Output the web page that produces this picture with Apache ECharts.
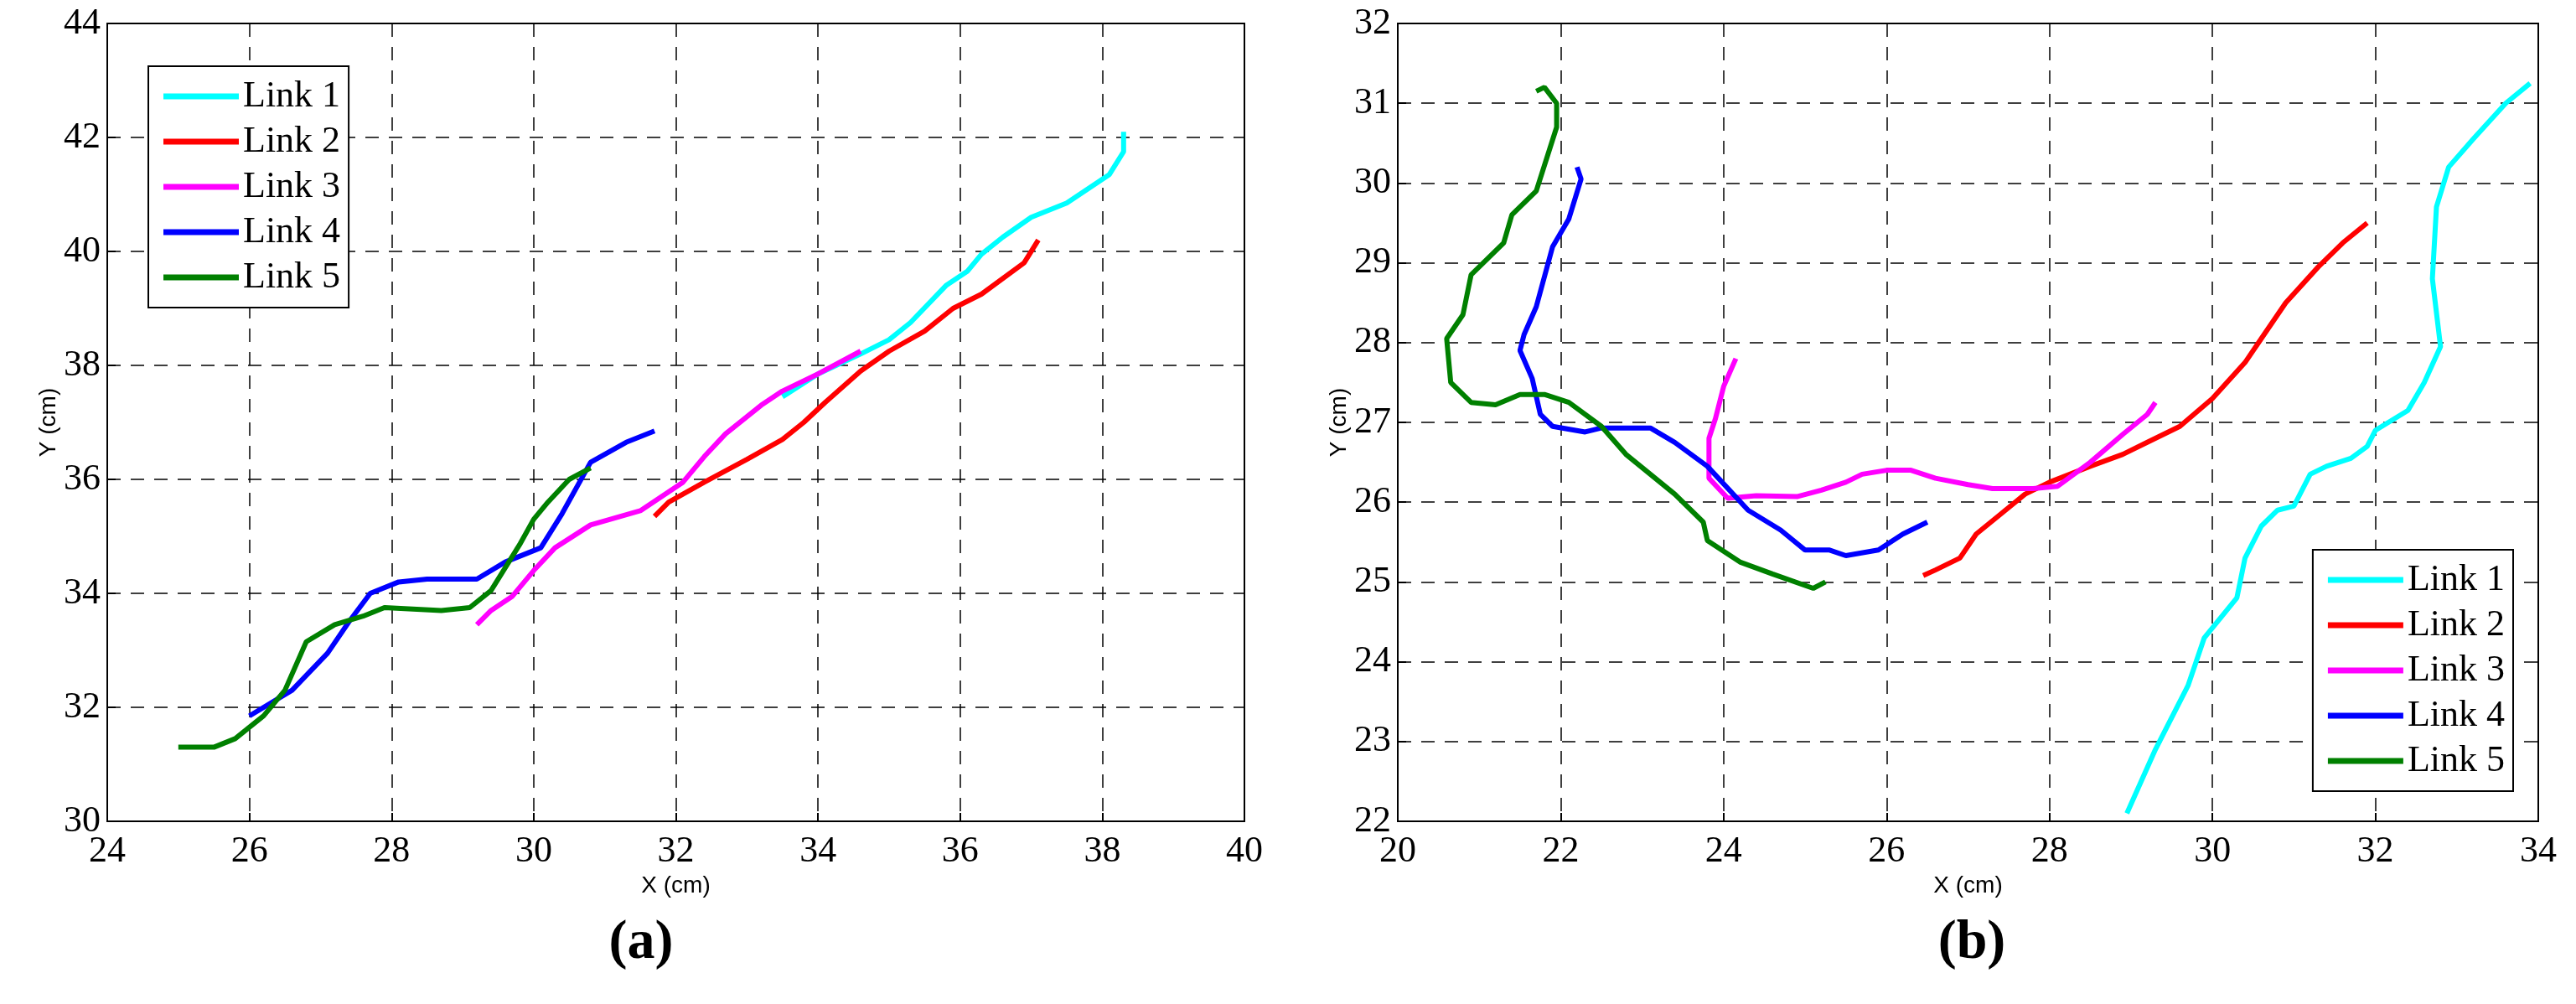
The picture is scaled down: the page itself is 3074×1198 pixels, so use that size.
<!DOCTYPE html>
<html lang="en">
<head>
<meta charset="UTF-8">
<title>Link trajectories</title>
<script src="https://cdn.jsdelivr.net/npm/echarts@6/dist/echarts.min.js"></script>
<style>
    html, body { margin: 0; padding: 0; background: #fff; }
    #chart { width: 3074px; height: 1198px; }
</style>
</head>
<body>
<div id="chart"></div>
<script>
    var linkNames = ['Link 1', 'Link 2', 'Link 3', 'Link 4', 'Link 5'];
    var linkColors = ['#00ffff', '#ff0000', '#ff00ff', '#0000ff', '#008000'];

    // (a)  [x, y] in cm
    var a1 = [[33.5,37.45],[34,37.85],[34.6,38.2],[35,38.45],[35.3,38.75],[35.8,39.4],[36.1,39.65],[36.3,39.95],[36.6,40.25],[37,40.6],[37.5,40.85],[38.1,41.35],[38.3,41.75],[38.3,42.1]];
    var a2 = [[31.7,35.35],[31.9,35.6],[32.4,35.95],[33,36.35],[33.5,36.7],[33.8,37],[34.1,37.35],[34.6,37.9],[35,38.25],[35.5,38.6],[35.9,39],[36.3,39.25],[36.9,39.8],[37.1,40.2]];
    var a3 = [[29.2,33.45],[29.4,33.7],[29.7,33.95],[30,34.4],[30.3,34.8],[30.8,35.2],[31.5,35.45],[31.8,35.7],[32.1,35.95],[32.4,36.4],[32.7,36.8],[33.2,37.3],[33.5,37.55],[34,37.85],[34.6,38.25]];
    var a4 = [[26,31.85],[26.6,32.3],[27.1,32.95],[27.4,33.5],[27.7,34],[28.1,34.2],[28.5,34.25],[29.2,34.25],[29.6,34.55],[30.1,34.8],[30.4,35.4],[30.8,36.3],[31.3,36.65],[31.7,36.85]];
    var a5 = [[25,31.3],[25.5,31.3],[25.8,31.45],[26.2,31.85],[26.5,32.3],[26.8,33.15],[27.2,33.45],[27.6,33.6],[27.9,33.75],[28.7,33.7],[29.1,33.75],[29.4,34.05],[29.8,34.85],[30,35.3],[30.2,35.6],[30.5,36],[30.8,36.2]];

    // (b)
    var b1 = [[28.95,22.1],[29.3,22.9],[29.7,23.7],[29.9,24.3],[30.3,24.8],[30.4,25.3],[30.6,25.7],[30.8,25.9],[31,25.95],[31.2,26.35],[31.4,26.45],[31.7,26.55],[31.9,26.7],[32,26.9],[32.4,27.15],[32.6,27.5],[32.8,27.95],[32.7,28.8],[32.75,29.7],[32.9,30.2],[33.2,30.55],[33.6,31],[33.9,31.25]];
    var b2 = [[26.45,25.08],[26.6,25.15],[26.9,25.3],[27.1,25.6],[27.4,25.85],[27.7,26.1],[28,26.25],[28.5,26.45],[28.9,26.6],[29.2,26.75],[29.6,26.95],[30,27.3],[30.4,27.75],[30.6,28.05],[30.9,28.5],[31.3,28.95],[31.6,29.25],[31.9,29.5]];
    var b3 = [[24.15,27.8],[24,27.45],[23.9,27.05],[23.82,26.8],[23.82,26.3],[24.05,26.05],[24.4,26.08],[24.9,26.07],[25.2,26.15],[25.5,26.25],[25.7,26.35],[26,26.4],[26.3,26.4],[26.6,26.3],[27,26.22],[27.3,26.17],[27.8,26.17],[28.1,26.2],[28.5,26.5],[28.9,26.85],[29.2,27.1],[29.3,27.25]];
    var b4 = [[22.2,30.2],[22.25,30.05],[22.1,29.55],[21.9,29.2],[21.7,28.45],[21.55,28.1],[21.5,27.9],[21.65,27.55],[21.75,27.1],[21.9,26.95],[22.3,26.88],[22.5,26.93],[23.1,26.93],[23.4,26.75],[23.8,26.45],[24.3,25.9],[24.7,25.65],[25,25.4],[25.3,25.4],[25.5,25.33],[25.9,25.4],[26.2,25.6],[26.5,25.75]];
    var b5 = [[21.7,31.15],[21.8,31.2],[21.95,31],[21.95,30.7],[21.7,29.9],[21.4,29.6],[21.3,29.25],[21.1,29.05],[20.9,28.85],[20.8,28.35],[20.6,28.05],[20.65,27.5],[20.9,27.25],[21.2,27.22],[21.5,27.35],[21.8,27.35],[22.1,27.25],[22.5,26.95],[22.8,26.6],[23.1,26.35],[23.4,26.1],[23.75,25.75],[23.8,25.52],[24.2,25.25],[24.6,25.1],[25.1,24.92],[25.25,25]];

    var panelA = [a1, a2, a3, a4, a5];
    var panelB = [b1, b2, b3, b4, b5];

    var serif = '"Liberation Serif", "DejaVu Serif", serif';
    var sans = '"Liberation Sans", Arial, sans-serif';

    function makeAxis(gi, min, max, interval, name, isY) {
        return {
            type: 'value', gridIndex: gi, min: min, max: max, interval: interval,
            name: name, nameLocation: 'middle', nameGap: isY ? 54 : 44,
            nameTextStyle: { fontFamily: sans, fontSize: 28, color: '#000' },
            axisLine: { show: true, lineStyle: { color: '#000', width: 2 } },
            axisTick: { show: true, inside: true, length: 10, lineStyle: { color: '#000', width: 2 } },
            axisLabel: { fontFamily: serif, fontSize: 44, color: '#000', margin: isY ? 8 : 14 },
            splitLine: { show: true, lineStyle: { color: '#000', width: 1.5, type: [16, 12] } }
        };
    }

    var series = [];
    [panelA, panelB].forEach(function (panel, gi) {
        panel.forEach(function (d, i) {
            series.push({
                name: linkNames[i], type: 'line', xAxisIndex: gi, yAxisIndex: gi,
                data: d, showSymbol: false, smooth: false,
                lineStyle: { width: 6, color: linkColors[i] },
                itemStyle: { color: linkColors[i] }
            });
        });
    });

    var legendBase = {
        data: linkNames, orient: 'vertical',
        backgroundColor: '#fff', borderColor: '#000', borderWidth: 2,
        itemWidth: 90, itemHeight: 7, itemGap: 10, padding: [14, 10, 14, 18],
        textStyle: { fontFamily: serif, fontSize: 44, color: '#000' },
        icon: 'rect'
    };

    var chart = echarts.init(document.getElementById('chart'));
    chart.setOption({
        backgroundColor: '#fff',
        animation: false,
        title: [
            { text: '(a)', left: 760, top: 1088, textAlign: 'center', textStyle: { fontFamily: serif, fontSize: 66, fontWeight: 'bold', color: '#000' } },
            { text: '(b)', left: 2348, top: 1088, textAlign: 'center', textStyle: { fontFamily: serif, fontSize: 66, fontWeight: 'bold', color: '#000' } }
        ],
        grid: [
            { left: 128, right: 1589, top: 28, bottom: 218, show: true, borderColor: '#000', borderWidth: 2 },
            { left: 1668, right: 45, top: 28, bottom: 218, show: true, borderColor: '#000', borderWidth: 2 }
        ],
        xAxis: [
            makeAxis(0, 24, 40, 2, 'X (cm)', false),
            makeAxis(1, 20, 34, 2, 'X (cm)', false)
        ],
        yAxis: [
            makeAxis(0, 30, 44, 2, 'Y (cm)', true),
            makeAxis(1, 22, 32, 1, 'Y (cm)', true)
        ],
        legend: [
            Object.assign({}, legendBase, { left: 177, top: 79 }),
            Object.assign({}, legendBase, { right: 75, bottom: 254 })
        ],
        series: series
    });
</script>
</body>
</html>
